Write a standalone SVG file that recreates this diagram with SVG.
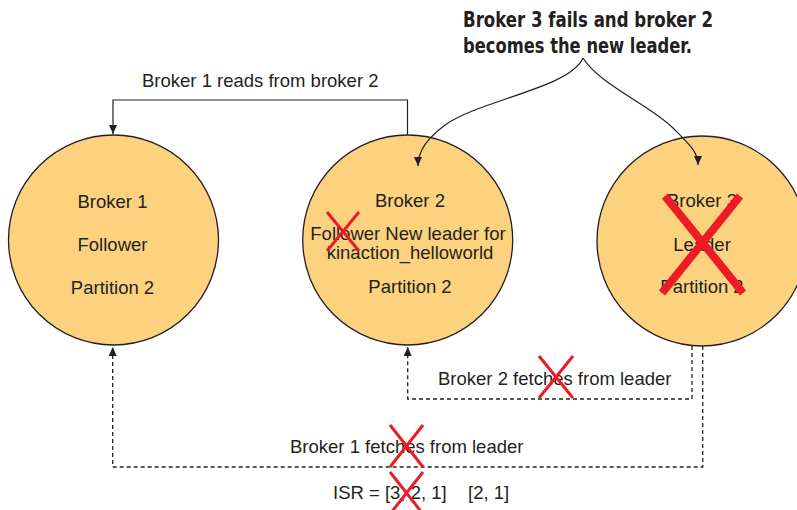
<svg xmlns="http://www.w3.org/2000/svg" width="797" height="510" viewBox="0 0 797 510">
<style>
.node{fill:#fdd27f;stroke:#231f20;stroke-width:1.3}
.t{font-family:"Liberation Sans",Arial,sans-serif;font-size:18.5px;fill:#231f20}
.c{text-anchor:middle}
.title{font-family:"DejaVu Sans Condensed","DejaVu Sans",sans-serif;font-weight:bold;font-size:20.5px;fill:#231f20}
.solid{fill:none;stroke:#231f20;stroke-width:1.2}
.dash{fill:none;stroke:#231f20;stroke-width:1.3;stroke-dasharray:4,3}
.x{stroke:#ed1c24;fill:none}
</style>
<defs>
<marker id="ah" markerWidth="10" markerHeight="10" refX="9" refY="5" orient="auto" markerUnits="userSpaceOnUse">
<path d="M0,1 L9,5 L0,9 z" fill="#231f20"/>
</marker>
</defs>
<g id="broker1">
<circle class="node" cx="113.5" cy="240" r="105"/>
<text class="t c" x="112.5" y="208">Broker 1</text>
<text class="t c" x="112.5" y="251">Follower</text>
<text class="t c" x="112.5" y="294">Partition 2</text>
</g>
<g id="broker2">
<circle class="node" cx="407.7" cy="240" r="105"/>
<text class="t c" x="410" y="207">Broker 2</text>
<text class="t c" x="408" y="240">Follower New leader for</text>
<text class="t c" x="410" y="259">kinaction_helloworld</text>
<text class="t c" x="410" y="293">Partition 2</text>
</g>
<g id="broker3">
<circle class="node" cx="702" cy="241" r="105"/>
<text class="t c" x="702" y="207">Broker 3</text>
<text class="t c" x="702" y="251">Leader</text>
<text class="t c" x="702" y="293">Partition 2</text>
</g>
<g id="title">
<text class="title" x="463" y="27" textLength="250" lengthAdjust="spacingAndGlyphs">Broker 3 fails and broker 2</text>
<text class="title" x="463" y="53" textLength="229" lengthAdjust="spacingAndGlyphs">becomes the new leader.</text>
</g>
<g id="connectors">
<path class="solid" d="M407.5,135 V100 H113 V134" marker-end="url(#ah)"/>
<path class="solid" d="M583,58 C570,88 480,100 445,125 C428,138 418,150 418,166" marker-end="url(#ah)"/>
<path class="solid" d="M583,58 C600,85 650,105 673,128 C690,145 698,152 698,165" marker-end="url(#ah)"/>
<path class="dash" d="M692,346 V399 H407.7 V347" marker-end="url(#ah)"/>
<path class="dash" d="M702.7,346 V467 H112.7 V347" marker-end="url(#ah)"/>
</g>
<g id="labels">
<text class="t" x="142" y="87">Broker 1 reads from broker 2</text>
<text class="t" x="438" y="385">Broker 2 fetches from leader</text>
<text class="t" x="290" y="453">Broker 1 fetches from leader</text>
<text class="t" x="333" y="499">ISR = [3, 2, 1]</text>
<text class="t" x="468" y="499">[2, 1]</text>
</g>
<g id="crosses">
<path class="x" stroke-width="8" d="M665,196 L743,293 M740,196 L662,293"/>
<path class="x" stroke-width="3" d="M327,212 L359,251 M359,212 L327,251"/>
<path class="x" stroke-width="3" d="M539,356 L573,398 M573,356 L539,398"/>
<path class="x" stroke-width="3" d="M390,425 L423,467 M423,425 L390,467"/>
<path class="x" stroke-width="3" d="M390,472 L423,514 M423,472 L390,514"/>
</g>
</svg>
